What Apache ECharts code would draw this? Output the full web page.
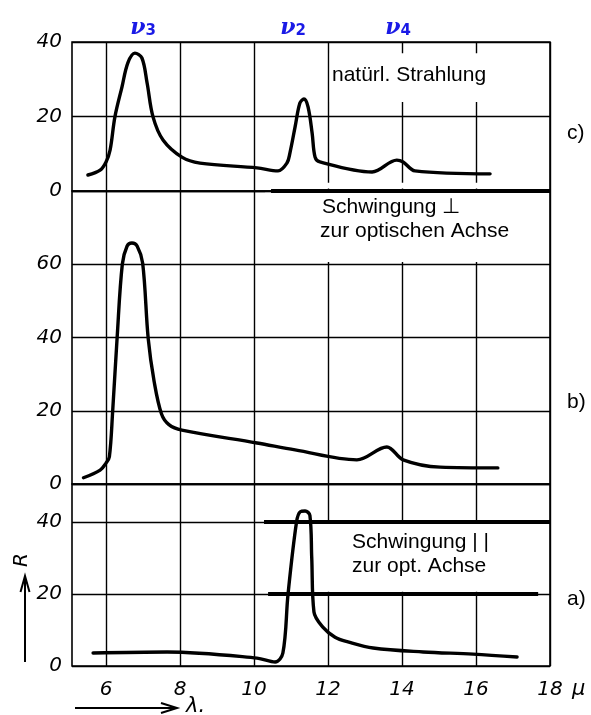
<!DOCTYPE html>
<html><head><meta charset="utf-8">
<script src="https://cdn.jsdelivr.net/npm/echarts@6/dist/echarts.min.js"></script>
<style>html,body{margin:0;padding:0;background:#fff}#c{width:591px;height:715px}</style>
</head><body><div id="c"></div>
<script>
// x ticks (wavelength, micron)
const xTicks = [6, 8, 10, 12, 14, 16, 18];

// panel c) natural radiation
const cLambda = [5.51, 5.84, 6.00, 6.11, 6.24, 6.43, 6.59, 6.78, 6.97, 7.11, 7.27, 7.54, 8.05, 8.54, 10.08, 10.65, 10.89, 10.97, 11.11, 11.24, 11.35, 11.46, 11.57, 11.65, 11.78, 13.19, 13.86, 14.03, 14.35, 16.38];
const cR      = [4.3, 5.6, 7.8, 11.0, 19.9, 27.9, 34.4, 37.0, 35.7, 29.0, 19.9, 13.7, 9.1, 7.5, 6.2, 5.4, 7.5, 10.2, 17.2, 23.6, 24.7, 22.6, 15.6, 9.1, 7.8, 5.1, 8.3, 7.8, 5.4, 4.6];

// panel b) vibration perpendicular to optical axis
const bLambda = [5.39, 5.84, 6.00, 6.09, 6.18, 6.30, 6.44, 6.57, 6.70, 6.84, 6.99, 7.14, 7.30, 7.50, 7.70, 8.05, 10.08, 11.11, 12.78, 13.59, 14.03, 15.03, 16.59];
const bR      = [1.7, 3.8, 5.7, 7.4, 20.0, 40.0, 60.0, 65.0, 65.8, 65.0, 60.3, 39.7, 28.0, 19.1, 16.2, 14.7, 11.2, 9.3, 6.6, 10.1, 6.6, 4.6, 4.4];

// panel a) vibration parallel to optical axis
const aLambda = [5.65, 7.65, 10.08, 10.57, 10.78, 10.92, 11.15, 11.25, 11.38, 11.51, 11.56, 11.62, 11.86, 12.19, 12.54, 13.22, 14.57, 15.92, 17.11];
const aR      = [3.6, 3.9, 2.2, 1.1, 3.6, 20.0, 40.0, 42.8, 43.0, 41.8, 30.0, 15.0, 10.8, 8.0, 6.7, 5.0, 3.9, 3.3, 2.5];

const panelMax = [40, 80, 50.5];
const zip = (xs, ys) => xs.map((x, i) => [x, ys[i]]);

const chart = echarts.init(document.getElementById('c'), null, {renderer: 'canvas'});
const grids = [
  {left: 72, right: 41, top: 42, height: 149},
  {left: 72, right: 41, top: 191, height: 293},
  {left: 72, right: 41, top: 484, height: 182}
].map(g => Object.assign(g, {show: true, borderColor: '#000', borderWidth: 1.6, backgroundColor: 'transparent'}));

const gridLine = {show: true, lineStyle: {color: '#000', width: 1.4, type: 'solid'}};
const numFont = {fontFamily: 'DejaVu Sans', fontStyle: 'italic', fontSize: 20, color: '#000'};

const xAxes = [0, 1, 2].map(i => ({
  type: 'value', gridIndex: i, min: 5.08, max: 18,
  axisLine: {show: false},
  axisTick: {show: false, customValues: xTicks},
  axisLabel: Object.assign({show: i === 2, customValues: xTicks, margin: 14}, numFont),
  splitLine: gridLine
}));
const yAxes = [0, 1, 2].map(i => ({
  type: 'value', gridIndex: i, min: 0, max: panelMax[i], interval: 20,
  axisLine: {show: false}, axisTick: {show: false},
  axisLabel: Object.assign({margin: 10, showMaxLabel: i === 0, showMinLabel: true}, numFont),
  splitLine: gridLine
}));

const thick = segs => ({
  silent: true, symbol: ['none', 'none'], label: {show: false},
  lineStyle: {color: '#000', width: 4, type: 'solid'},
  emphasis: {disabled: true},
  data: segs.map(s => [{coord: [s[0], s[2]]}, {coord: [s[1], s[2]]}])
});
const blank = boxes => ({
  silent: true, itemStyle: {color: '#fff', opacity: 1},
  emphasis: {disabled: true},
  data: boxes.map(b => [{xAxis: b[0], yAxis: b[2]}, {xAxis: b[1], yAxis: b[3]}])
});

const curve = (i, data, segs, boxes) => ({
  type: 'line', xAxisIndex: i, yAxisIndex: i, data: data,
  symbol: 'none', smooth: 0.35, z: 5,
  lineStyle: {color: '#000', width: 3.4, join: 'round', cap: 'round'},
  markLine: thick(segs), markArea: blank(boxes)
});

const T = (text, x, y, extra) => Object.assign({
  type: 'text', x: x, y: y, z: 50,
  style: Object.assign({text: text, fill: '#000', font: '21px "Liberation Sans", Arial, sans-serif', textAlign: 'left', textVerticalAlign: 'middle'}, (extra || {}))
});
const nu = (sub, x) => ({
  type: 'text', x: x, y: 28, z: 50,
  style: {
    text: '{n|ν}{s|' + sub + '}', textAlign: 'center', textVerticalAlign: 'middle',
    rich: {
      n: {font: 'italic bold 22px "DejaVu Serif", serif', fill: '#1a1ae6'},
      s: {font: 'bold 15px "DejaVu Sans", sans-serif', fill: '#1a1ae6', verticalAlign: 'bottom', padding: [6, 0, 0, 0]}
    }
  }
});

chart.setOption({
  animation: false,
  grid: grids,
  xAxis: xAxes,
  yAxis: yAxes,
  series: [
    curve(0, zip(cLambda, cR), [[10.46, 18, 0]], [[12.05, 17.93, 23.9, 37], [10.3, 17.93, 0.7, 2.2]]),
    curve(1, zip(bLambda, bR), [], [[10.3, 17.93, 60.6, 79.5]]),
    curve(2, zip(aLambda, aR), [[10.27, 18, 40], [10.38, 17.68, 20]], [[10.3, 17.93, 20.6, 39.4]])
  ],
  graphic: [
    T('natürl. Strahlung', 332, 75),
    T('Schwingung ⊥', 322, 207),
    T('zur optischen Achse', 320, 231),
    T('Schwingung | |', 352, 542),
    T('zur opt. Achse', 352, 566),
    T('c)', 567, 133),
    T('b)', 567, 402),
    T('a)', 567, 599),
    T('μ', 572, 690, {font: 'italic 21px "DejaVu Sans", sans-serif'}),
    T('λ.', 186, 707, {font: 'italic 21px "DejaVu Sans", sans-serif'}),
    {type: 'text', x: 22, y: 560, rotation: Math.PI / 2, z: 50,
     style: {text: 'R', fill: '#000', font: 'italic 20px "DejaVu Sans", sans-serif', textAlign: 'center', textVerticalAlign: 'middle'}},
    {type: 'line', z: 50, shape: {x1: 25, y1: 662, x2: 25, y2: 576}, style: {stroke: '#000', lineWidth: 2}},
    {type: 'polyline', z: 50, shape: {points: [[20.5, 592], [25, 576], [29.5, 592]]}, style: {stroke: '#000', lineWidth: 2, fill: null}},
    {type: 'line', z: 50, shape: {x1: 75, y1: 708, x2: 177, y2: 708}, style: {stroke: '#000', lineWidth: 2}},
    {type: 'polyline', z: 50, shape: {points: [[161, 703], [177, 708], [161, 713]]}, style: {stroke: '#000', lineWidth: 2, fill: null}},
    nu('3', 143),
    nu('2', 293),
    nu('4', 398)
  ]
});
</script>
</body></html>
